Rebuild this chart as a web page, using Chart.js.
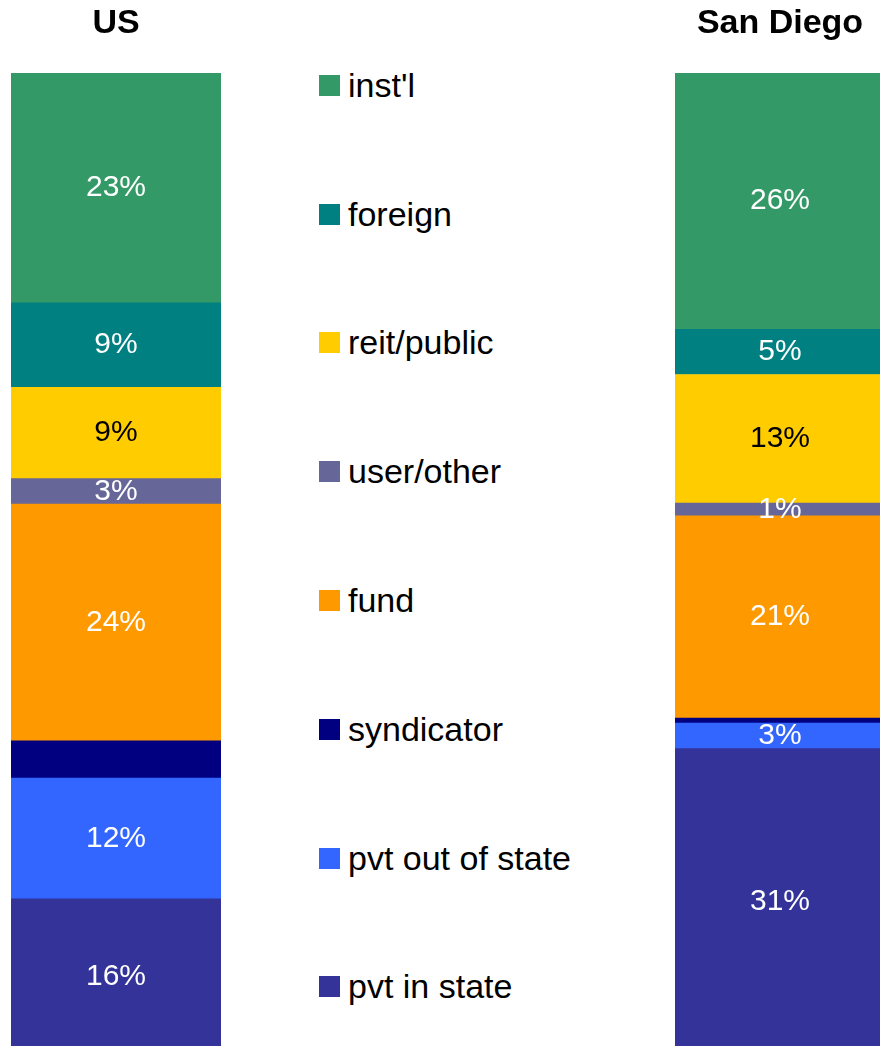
<!DOCTYPE html>
<html>
<head>
<meta charset="utf-8">
<script src="https://cdn.jsdelivr.net/npm/chart.js@4"></script>
<style>
  html, body { margin: 0; padding: 0; background: #fff; overflow: hidden; width: 880px; height: 1046px; }
  .box { position: absolute; top: 0; width: 232px; height: 1055px; }
  #usBox { left: 0; }
  #sdBox { left: 664px; }
  #legend { position: absolute; left: 319px; top: 21px; font-family: "Liberation Sans", Arial, sans-serif; font-size: 34px; color: #000; }
  #legend .item { height: 128.8px; display: flex; align-items: center; white-space: nowrap; }
  #legend .swatch { width: 21px; height: 21px; margin-right: 8px; flex: none; }
</style>
</head>
<body>
<div id="usBox" class="box"><canvas id="usChart"></canvas></div>
<div id="legend"></div>
<div id="sdBox" class="box"><canvas id="sdChart"></canvas></div>
<script>
(function () {

    // categories (one bar each)
    var categories = ['US', 'San Diego'];

    // series, listed top of the stack first
    var seriesNames = ["inst'l", 'foreign', 'reit/public', 'user/other', 'fund', 'syndicator', 'pvt out of state', 'pvt in state'];
    var seriesColors = ['#339966', '#008080', '#FFCC00', '#666699', '#FF9900', '#000080', '#3366FF', '#333399'];
    var labelColors = ['#fff', '#fff', '#000', '#fff', '#fff', '#fff', '#fff', '#fff'];

    // shares in percent, same order as seriesNames
    var usValues = [23.4, 8.6, 9.3, 2.6, 24.1, 3.8, 12.3, 15.9];
    var sdValues = [26.1, 4.6, 13.1, 1.3, 20.6, 0.5, 2.6, 31.2];

    var fontFamily = '"Liberation Sans", Arial, sans-serif';

    // draws the % labels in the middle of each segment (syndicator has none)
    var barLabels = {
      id: 'barLabels',
      afterDatasetsDraw: function (chart) {
        var ctx = chart.ctx;
        ctx.save();
        ctx.font = '30px ' + fontFamily;
        ctx.textAlign = 'center';
        ctx.textBaseline = 'middle';
        chart.data.datasets.forEach(function (ds, i) {
          if (ds.label === 'syndicator') return;
          chart.getDatasetMeta(i).data.forEach(function (bar, j) {
            ctx.fillStyle = ds.labelColor;
            ctx.fillText(Math.round(ds.data[j]) + '%', bar.x, (bar.y + bar.base) / 2);
          });
        });
        ctx.restore();
      }
    };

    function makeChart(canvasId, category, values) {
      // chart.js stacks the first dataset at the bottom, so go backwards
      var datasets = [];
      for (var i = seriesNames.length - 1; i >= 0; i--) {
        datasets.push({
          label: seriesNames[i],
          data: [values[i]],
          backgroundColor: seriesColors[i],
          labelColor: labelColors[i],
          borderWidth: 0,
          barPercentage: 1,
          categoryPercentage: 1
        });
      }

      return new Chart(canvasId, {
        type: 'bar',
        data: { labels: [category], datasets: datasets },
        plugins: [barLabels],
        options: {
          responsive: true,
          maintainAspectRatio: false,
          animation: false,
          layout: { padding: { left: 11, right: 11, top: 0, bottom: 0 } },
          scales: {
            x: { stacked: true, display: false },
            y: { stacked: true, display: false, min: 0, max: 100 }
          },
          plugins: {
            legend: { display: false },
            tooltip: { enabled: false },
            title: {
              display: true,
              text: category,
              color: '#000',
              font: { family: fontFamily, size: 34, weight: 'bold', lineHeight: 1.2 },
              padding: { top: 3, bottom: 29.2 }
            }
          }
        }
      });
    }

    function fillLegend() {
      var legend = document.getElementById('legend');
      for (var i = 0; i < seriesNames.length; i++) {
        var item = document.createElement('div');
        item.className = 'item';
        var sw = document.createElement('span');
        sw.className = 'swatch';
        sw.style.background = seriesColors[i];
        var txt = document.createElement('span');
        txt.textContent = seriesNames[i];
        item.appendChild(sw);
        item.appendChild(txt);
        legend.appendChild(item);
      }
    }

    fillLegend();
    makeChart('usChart', categories[0], usValues);
    makeChart('sdChart', categories[1], sdValues);
})()
</script>
</body>
</html>
